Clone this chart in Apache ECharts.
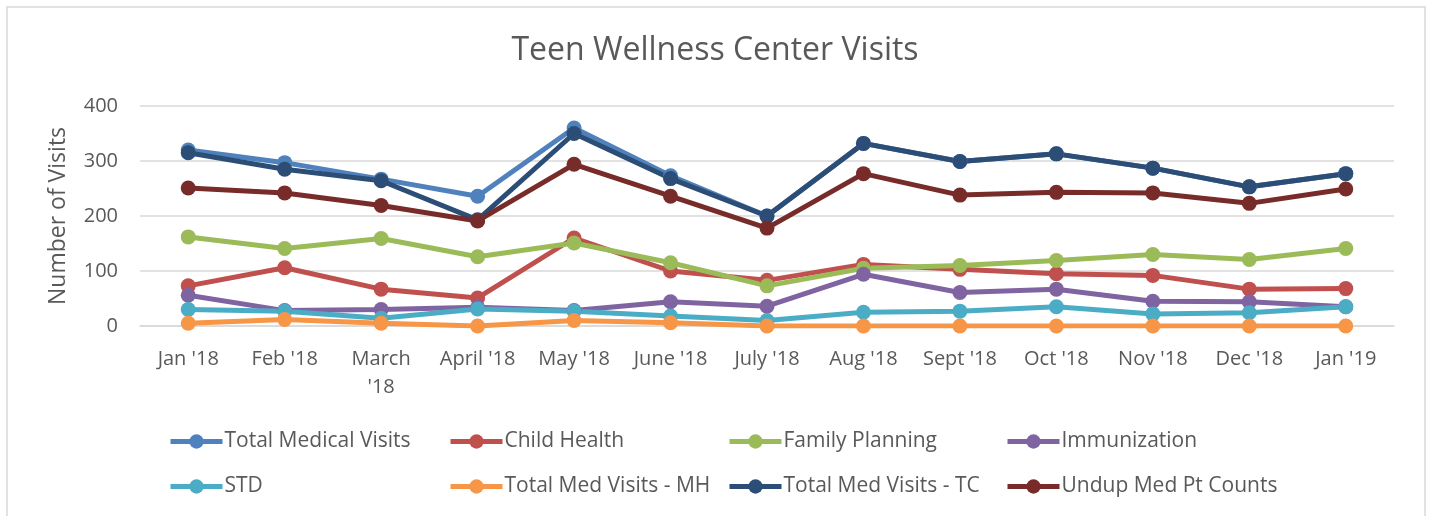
<!DOCTYPE html>
<html>
<head>
<meta charset="utf-8">
<script src="https://cdn.jsdelivr.net/npm/echarts@6/dist/echarts.min.js"></script>
<style>
  html, body { margin: 0; padding: 0; background: #fff; }
  #chart { width: 1430px; height: 516px; }
</style>
</head>
<body>
<div id="chart"></div>
<script>
// month labels and the eight series
const months = ["Jan '18", "Feb '18", "March\n'18", "April '18", "May '18", "June '18", "July '18",
  "Aug '18", "Sept '18", "Oct '18", "Nov '18", "Dec '18", "Jan '19"]
const totalMedical = [320, 297, 267, 236, 360, 273, 200, 332, 299, 313, 287, 253, 277]
const childHealth = [73, 106, 67, 51, 160, 100, 83, 112, 103, 95, 92, 67, 68]
const familyPlanning = [162, 141, 159, 126, 151, 115, 73, 105, 110, 119, 130, 121, 141]
const immunization = [56, 28, 30, 34, 28, 44, 36, 94, 61, 67, 45, 44, 35]
const std = [30, 27, 14, 31, 27, 18, 10, 25, 27, 35, 22, 24, 35]
const totalMH = [5, 12, 5, 0, 10, 6, 0, 0, 0, 0, 0, 0, 0]
const totalTC = [315, 285, 264, 193, 350, 268, 200, 332, 299, 313, 287, 253, 277]
const undup = [251, 242, 219, 191, 294, 236, 178, 277, 238, 243, 242, 223, 249]

const names = ['Total Medical Visits', 'Child Health', 'Family Planning', 'Immunization',
  'STD', 'Total Med Visits - MH', 'Total Med Visits - TC', 'Undup Med Pt Counts']
const values = [totalMedical, childHealth, familyPlanning, immunization, std, totalMH, totalTC, undup]
const colors = ['#4F81BD', '#C0504D', '#9BBB59', '#8064A2', '#4BACC6', '#F79646', '#2C4D75', '#772C2A']

const font = '"Open Sans", sans-serif'
const textColor = '#595959'

// one legend per item so the columns line up like the original
const legendCols = [163, 443, 722, 1000]
const legendRows = [426, 471]
let legends = []
for (let i = 0; i < names.length; i++) {
  legends.push({
    data: [names[i]],
    left: legendCols[i % 4],
    top: legendRows[Math.floor(i / 4)],
    itemWidth: 52,
    itemHeight: 18,
    itemGap: 0,
    lineStyle: { width: 5 },
    textStyle: { color: textColor, fontSize: 21, fontFamily: font, padding: [0, 0, 0, -3] },
    selectedMode: false
  })
}

let series = []
for (let i = 0; i < names.length; i++) {
  series.push({
    name: names[i],
    type: 'line',
    data: values[i],
    color: colors[i],
    symbol: 'circle',
    symbolSize: 15,
    lineStyle: { width: 5 },
    itemStyle: { color: colors[i] },
    animation: false
  })
}

let option = {
  backgroundColor: '#fff',
  title: {
    text: 'Teen Wellness Center Visits',
    left: 'center',
    top: 30,
    textStyle: { color: textColor, fontSize: 32, fontWeight: 'normal', fontFamily: font }
  },
  legend: legends,
  grid: { left: 140, right: 36, top: 106, bottom: 190, containLabel: false },
  xAxis: {
    type: 'category',
    data: months,
    boundaryGap: true,
    axisLine: { show: true, lineStyle: { color: '#d9d9d9', width: 1.5 } },
    axisTick: { show: false },
    axisLabel: { color: textColor, fontSize: 20, fontFamily: font, margin: 19, lineHeight: 28, interval: 0 }
  },
  yAxis: {
    type: 'value',
    min: 0,
    max: 400,
    interval: 100,
    name: 'Number of Visits',
    nameLocation: 'middle',
    nameGap: 70,
    nameTextStyle: { color: textColor, fontSize: 23, fontFamily: font },
    axisLine: { show: false },
    axisTick: { show: false },
    axisLabel: { color: textColor, fontSize: 20, fontFamily: font, margin: 22 },
    splitLine: { lineStyle: { color: '#d9d9d9', width: 1.5 } }
  },
  graphic: [{
    type: 'rect',
    shape: { x: 7, y: 7, width: 1418, height: 530 },
    style: { fill: 'none', stroke: '#d9d9d9', lineWidth: 1.5 },
    silent: true
  }],
  series: series
}

const myChart = echarts.init(document.getElementById('chart'))
myChart.setOption(option)
</script>
</body>
</html>
